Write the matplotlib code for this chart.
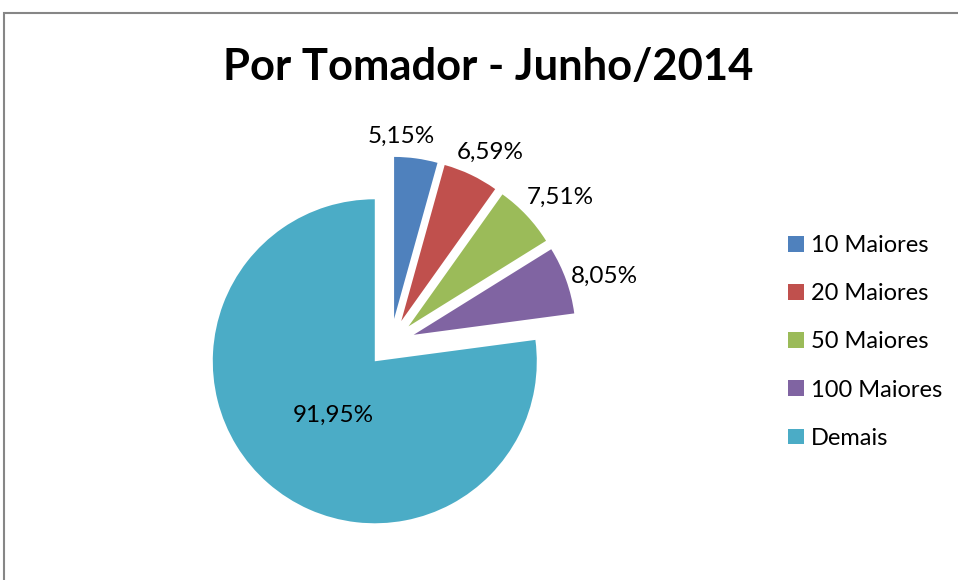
import numpy as np
import matplotlib
matplotlib.use("Agg")
import matplotlib.pyplot as plt
from matplotlib.patches import Rectangle

# dados do grafico
categorias = ["10 Maiores", "20 Maiores", "50 Maiores", "100 Maiores", "Demais"]
valores = [5.15, 6.59, 7.51, 8.05, 91.95]
cores = ["#4F81BD", "#C0504D", "#9BBB59", "#8064A2", "#4BACC6"]
titulo = "Por Tomador - Junho/2014"

plt.rcParams['font.family'] = ['Lato', 'DejaVu Sans']

W, H = 958, 580
fig = plt.figure(figsize=(W / 100, H / 100), dpi=100)
fig.patch.set_facecolor('white')

# eixo ocupa a figura toda; 1 unidade = raio da pizza
ax = fig.add_axes([0, 0, 1, 1])
wedges, _ = ax.pie(valores, explode=[0.15] * len(valores), colors=cores,
                   startangle=90, counterclock=False,
                   wedgeprops=dict(linewidth=0))

raio_px = 162.0
cx, cy = 390.8, 343.0
ax.set_xlim(-cx / raio_px, (W - cx) / raio_px)
ax.set_ylim(-(H - cy) / raio_px, cy / raio_px)
ax.set_aspect('auto')
ax.axis('off')

# rotulos de dados (formato brasileiro)
dist_rot = [1.28, 1.33, 1.38, 1.38, 0.57]
ajuste_ang = [5.0, -2.0, -2.5, -2.5, 3.0]
for i, (w, v) in enumerate(zip(wedges, valores)):
    t = np.deg2rad((w.theta1 + w.theta2) / 2 + ajuste_ang[i])
    x, y = dist_rot[i] * np.cos(t), dist_rot[i] * np.sin(t)
    txt = f"{v:.2f}%".replace('.', ',')
    ax.text(x, y, txt, ha='center', va='center', fontsize=17.5, color='black')

fig.text(488 / W, 1 - 80 / H, titulo, ha='center', va='baseline',
         fontsize=31.3, fontweight='bold', color='black')

leg = fig.legend(wedges, categorias, loc='center left',
                 bbox_to_anchor=(767 / W, 1 - 342 / H), frameon=False,
                 fontsize=17, handlelength=0.65, handleheight=0.65,
                 handletextpad=0.3, labelspacing=1.15)

# moldura cinza do grafico (cortada a direita e embaixo)
fig.patches.append(Rectangle((4 / W, -0.1), 1.2, 1.1 - 13 / H, transform=fig.transFigure,
                             fill=False, edgecolor='#868686', linewidth=1.5))

fig.savefig("out.png", dpi=100, facecolor='white')
